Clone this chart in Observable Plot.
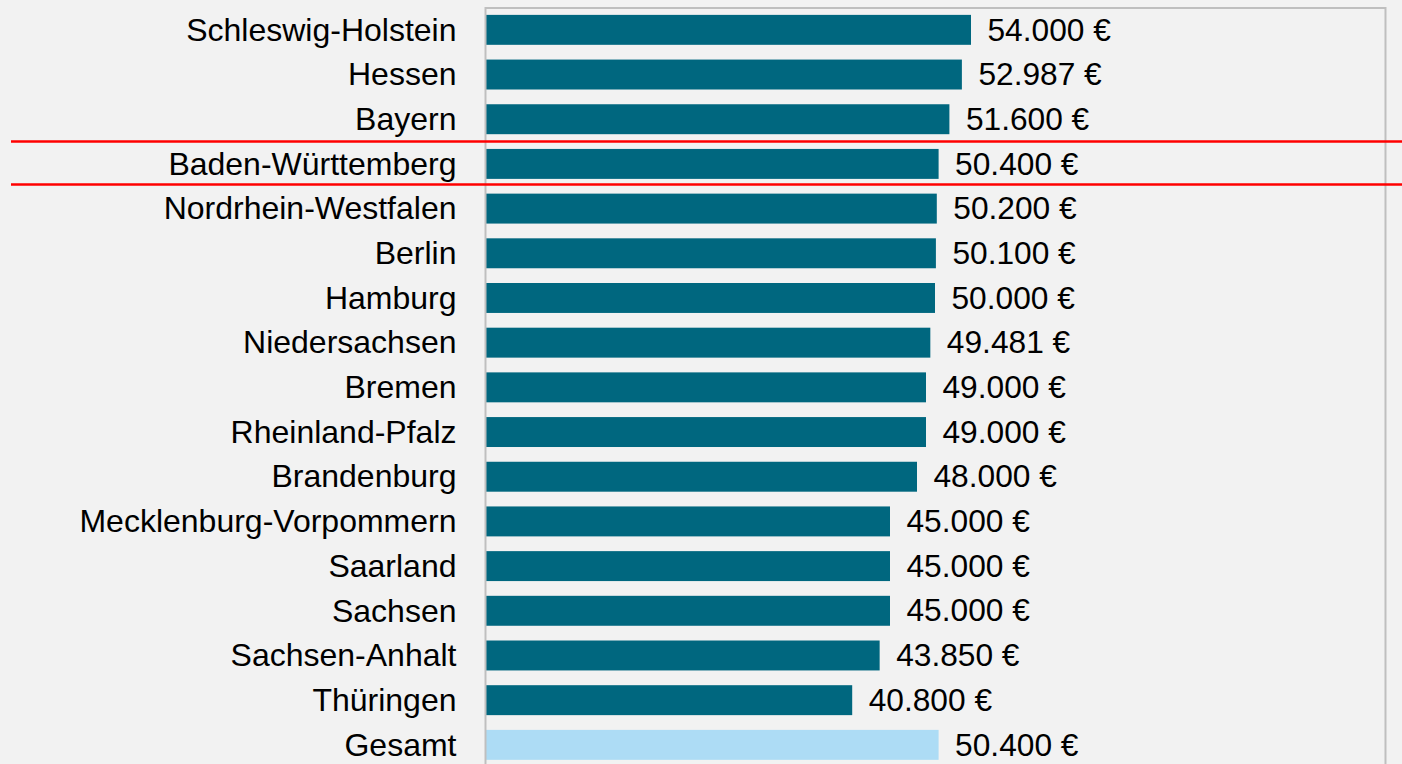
<!DOCTYPE html>
<html>
<head>
<meta charset="utf-8">
<script src="https://cdn.jsdelivr.net/npm/d3@7"></script>
<script src="https://cdn.jsdelivr.net/npm/@observablehq/plot@0.6"></script>
<style>
  html, body { margin: 0; padding: 0; background: #f2f2f2; overflow: hidden; width: 1402px; height: 764px; }
  #chart svg { display: block; }
</style>
</head>
<body>
<div id="chart"></div>
<script>
const states = [
  "Schleswig-Holstein", "Hessen", "Bayern", "Baden-Württemberg",
  "Nordrhein-Westfalen", "Berlin", "Hamburg", "Niedersachsen",
  "Bremen", "Rheinland-Pfalz", "Brandenburg", "Mecklenburg-Vorpommern",
  "Saarland", "Sachsen", "Sachsen-Anhalt", "Thüringen", "Gesamt"
];
const salaries = [
  54000, 52987, 51600, 50400,
  50200, 50100, 50000, 49481,
  49000, 49000, 48000, 45000,
  45000, 45000, 43850, 40800, 50400
];
const highlighted = "Baden-Württemberg";
const totalLabel = "Gesamt";

const data = states.map((s, i) => ({state: s, value: salaries[i]}));
const fmt = v => d3.format(",")(v).replace(/,/g, ".") + " €";

const FONT = "'Liberation Sans', Arial, Helvetica, sans-serif";
const W = 1402, H = 780;

const chart = Plot.plot({
  width: W,
  height: H,
  marginLeft: 485,
  marginRight: 17,
  marginTop: 7.5,
  marginBottom: 12.8,
  style: {background: "#f2f2f2", fontFamily: FONT, overflow: "visible"},
  x: {domain: [0, 100000], axis: null},
  y: {domain: states, axis: null, paddingInner: 0.33, paddingOuter: 0.165, round: false},
  marks: [
    Plot.barX(data, {
      x: "value",
      y: "state",
      fill: d => d.state === totalLabel ? "#addcf5" : "#00677f"
    }),
    Plot.text(data, {
      x: "value",
      y: "state",
      text: d => fmt(d.value),
      textAnchor: "start",
      dx: 16,
      fontSize: 31.7,
      fontFamily: FONT,
      fill: "#000"
    }),
    Plot.text(data, {
      y: "state",
      text: "state",
      frameAnchor: "left",
      textAnchor: "end",
      dx: -29,
      fontSize: 32,
      fontFamily: FONT,
      fill: "#000"
    }),
    Plot.frame({stroke: "#bfbfbf", strokeWidth: 2})
  ]
});

// highlight lines around the highlighted row, positioned with the plot's y scale
const yScale = chart.scale("y");
const rowTop = yScale.apply(highlighted);
const bw = yScale.bandwidth;
const svg = d3.select(chart);
[rowTop - 7.5, rowTop + bw + 5.5].forEach(yy => {
  svg.append("line")
    .attr("x1", 11).attr("x2", W)
    .attr("y1", yy).attr("y2", yy)
    .attr("stroke", "#ff0000")
    .attr("stroke-width", 2.5);
});

document.getElementById("chart").appendChild(chart);
</script>
</body>
</html>
